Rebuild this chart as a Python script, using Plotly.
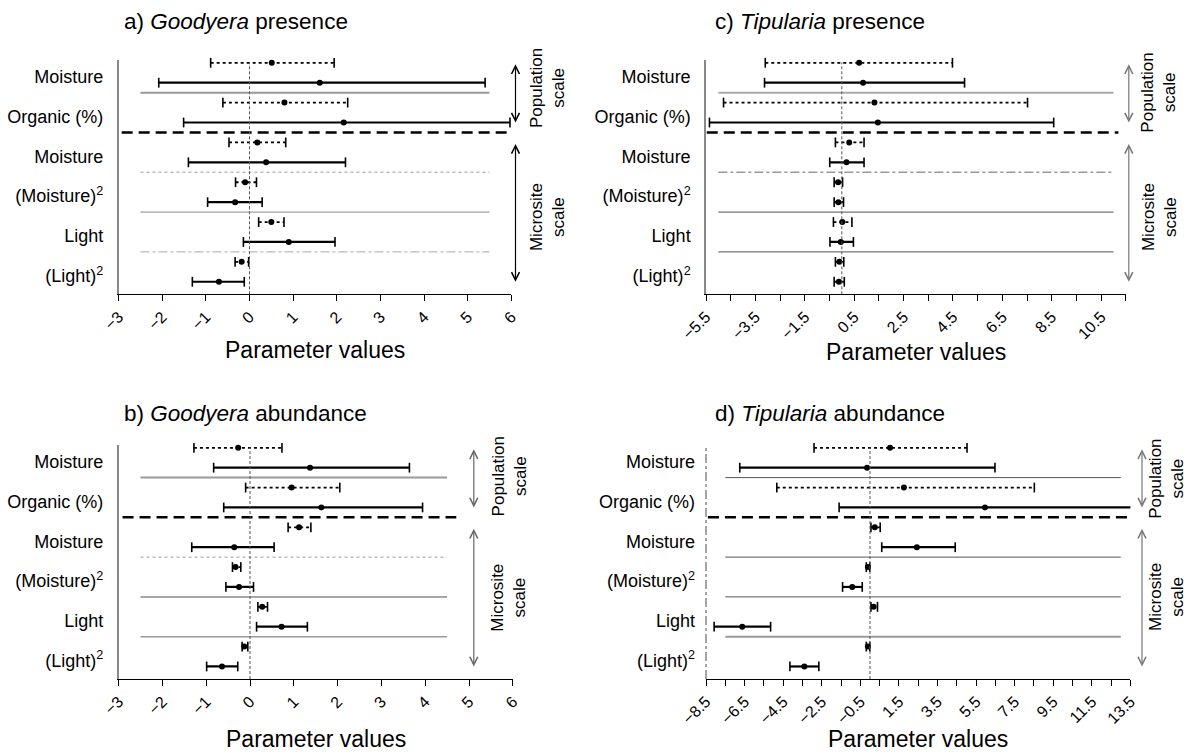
import plotly.graph_objects as go

variables = ["Moisture", "Organic (%)", "Moisture", "(Moisture)<sup>2</sup>",
             "Light", "(Light)<sup>2</sup>"]

# ---- panel a: Goodyera presence ----
a_dot_est = [0.51, 0.80, 0.18, -0.10, 0.50, -0.18]
a_dot_lo = [-0.89, -0.61, -0.47, -0.32, 0.21, -0.33]
a_dot_hi = [1.94, 2.25, 0.83, 0.16, 0.79, -0.02]
a_sol_est = [1.61, 2.16, 0.38, -0.33, 0.90, -0.70]
a_sol_lo = [-2.08, -1.51, -1.40, -0.96, -0.14, -1.31]
a_sol_hi = [5.40, 5.97, 2.20, 0.29, 1.96, -0.12]

# ---- panel b: Goodyera abundance ----
b_dot_est = [-0.27, 0.95, 1.12, -0.33, 0.28, -0.13]
b_dot_lo = [-1.28, -0.10, 0.87, -0.40, 0.18, -0.18]
b_dot_hi = [0.73, 2.05, 1.39, -0.21, 0.40, -0.05]
b_sol_est = [1.37, 1.63, -0.36, -0.25, 0.72, -0.64]
b_sol_lo = [-0.83, -0.60, -1.33, -0.55, 0.15, -0.99]
b_sol_hi = [3.64, 3.94, 0.55, 0.08, 1.31, -0.28]

# ---- panel c: Tipularia presence ----
c_dot_est = [0.70, 1.32, 0.30, -0.15, 0.02, -0.10]
c_dot_lo = [-3.10, -4.79, -0.26, -0.31, -0.34, -0.26]
c_dot_hi = [4.48, 7.52, 0.90, 0.03, 0.41, 0.08]
c_sol_est = [0.86, 1.46, 0.19, -0.14, -0.04, -0.12]
c_sol_lo = [-3.13, -5.36, -0.49, -0.31, -0.48, -0.31]
c_sol_hi = [4.97, 8.58, 0.90, 0.07, 0.47, 0.10]

# ---- panel d: Tipularia abundance ----
d_dot_est = [1.04, 1.76, 0.25, -0.11, 0.19, -0.11]
d_dot_lo = [-2.90, -4.83, 0.05, -0.19, 0.05, -0.19]
d_dot_hi = [5.03, 8.52, 0.53, -0.01, 0.39, -0.01]
d_sol_est = [-0.15, 5.96, 2.43, -0.92, -6.62, -3.40]
d_sol_lo = [-6.75, -1.60, 0.61, -1.42, -8.08, -4.15]
d_sol_hi = [6.48, 13.9, 4.42, -0.40, -5.15, -2.65]

ticks_ab = [-3, -2, -1, 0, 1, 2, 3, 4, 5, 6]
ticks_c = [-5.5, -3.5, -1.5, 0.5, 2.5, 4.5, 6.5, 8.5, 10.5]
ticks_d = [-8.5, -6.5, -4.5, -2.5, -0.5, 1.5, 3.5, 5.5, 7.5, 9.5, 11.5, 13.5]

W, H = 1190, 752
FONT = "Liberation Sans, Arial, sans-serif"

panels = [
    dict(key="a", title="a) <i>Goodyera</i> presence",
         dot=(a_dot_lo, a_dot_est, a_dot_hi), sol=(a_sol_lo, a_sol_est, a_sol_hi),
         xr=[-3, 6], ticks=ticks_ab, minor=None,
         px=(118.6, 511.3), py=(60, 294.3), title_xy=(122, 21.7), xt_y=350,
         sep=(-2.5, 5.5), dash=(-2.93, 5.95),
         seps=[("#999", 2, "solid"), ("#bbb", 1.5, "dot"), ("#888", 1, "solid"), ("#aaa", 1, "dashdot")],
         arrow_x=515.5, arrow_col="black", txt_x=547, txt_y=(2.27, 8.75), ydash=False),
    dict(key="b", title="b) <i>Goodyera</i> abundance",
         dot=(b_dot_lo, b_dot_est, b_dot_hi), sol=(b_sol_lo, b_sol_est, b_sol_hi),
         xr=[-3, 6], ticks=ticks_ab, minor=None,
         px=(118.6, 512.8), py=(445, 679), title_xy=(122, 413), xt_y=739,
         sep=(-2.5, 4.5), dash=(-2.91, 4.71),
         seps=[("#999", 2, "solid"), ("#bbb", 1.5, "dot"), ("#888", 1.5, "solid"), ("#999", 1.5, "solid")],
         arrow_x=473.8, arrow_col="#666", txt_x=509, txt_y=(2.44, 8.54), ydash=False),
    dict(key="c", title="c) <i>Tipularia</i> presence",
         dot=(c_dot_lo, c_dot_est, c_dot_hi), sol=(c_sol_lo, c_sol_est, c_sol_hi),
         xr=[-5.5, 11.5], ticks=ticks_c, minor=1,
         px=(706.0, 1125.8), py=(60, 294.3), title_xy=(712.5, 21.7), xt_y=352,
         sep=(-5.0, 11.0), dash=(-5.47, 11.2),
         seps=[("#aaa", 2, "solid"), ("#999", 1.5, "dashdot"), ("#555", 1, "solid"), ("#555", 1, "solid")],
         arrow_x=1128.8, arrow_col="#777", txt_x=1159, txt_y=(2.5, 8.75), ydash=False),
    dict(key="d", title="d) <i>Tipularia</i> abundance",
         dot=(d_dot_lo, d_dot_est, d_dot_hi), sol=(d_sol_lo, d_sol_est, d_sol_hi),
         xr=[-8.5, 13.5], ticks=ticks_d, minor=1,
         px=(706.0, 1130.4), py=(445, 679), title_xy=(712.5, 413), xt_y=739,
         sep=(-7.5, 13.0), dash=(-8.4, 13.76),
         seps=[("#555", 1, "solid"), ("#555", 1, "solid"), ("#555", 1, "solid"), ("#999", 2, "solid")],
         arrow_x=1142, arrow_col="#777", txt_x=1167, txt_y=(2.56, 8.5), ydash=True),
]

YR = [12.63, 0.86]
fig = go.Figure()
shapes, annotations = [], []
layout_axes = {}

for i, p in enumerate(panels, start=1):
    xa = "x" if i == 1 else f"x{i}"
    ya = "y" if i == 1 else f"y{i}"
    xname = "xaxis" if i == 1 else f"xaxis{i}"
    yname = "yaxis" if i == 1 else f"yaxis{i}"
    n = len(variables)
    rows_dot = [2 * k + 1 for k in range(n)]
    rows_sol = [2 * k + 2 for k in range(n)]

    for (lo, est, hi), rows, dash, lw in [(p["dot"], rows_dot, "3px,3px", 1.8),
                                          (p["sol"], rows_sol, "solid", 2.2)]:
        xs, ys = [], []
        for l, h, r in zip(lo, hi, rows):
            xs += [l, h, None]
            ys += [r, r, None]
        fig.add_trace(go.Scatter(
            x=xs, y=ys, xaxis=xa, yaxis=ya, mode="lines+markers",
            line=dict(color="black", width=lw, dash=dash),
            marker=dict(symbol="line-ns", size=7, line=dict(color="black", width=1.6)),
            showlegend=False, hoverinfo="skip", cliponaxis=False))
        fig.add_trace(go.Scatter(
            x=est, y=rows, xaxis=xa, yaxis=ya, mode="markers",
            marker=dict(symbol="circle", size=6, color="black"),
            showlegend=False, cliponaxis=False))

    xd = [p["px"][0] / W, p["px"][1] / W]
    yd = [1 - p["py"][1] / H, 1 - p["py"][0] / H]
    layout_axes[xname] = dict(
        domain=xd, range=p["xr"], anchor=ya, showline=True, linecolor="black",
        linewidth=1, ticks="outside", ticklen=6, tickcolor="black",
        tickmode="array", tickvals=p["ticks"], tickangle=-45, automargin=False,
        tickfont=dict(size=16, color="black", family=FONT),
        showgrid=False, zeroline=False, fixedrange=True)
    if p["minor"]:
        layout_axes[xname]["minor"] = dict(dtick=p["minor"], tick0=p["xr"][0],
                                           ticks="outside", ticklen=6, tickcolor="black",
                                           showgrid=False)
    layout_axes[yname] = dict(
        domain=yd, range=YR, anchor=xa, showline=not p["ydash"], linecolor="#888",
        linewidth=1.5, ticks="", tickmode="array", automargin=False,
        tickvals=[r + 0.7 for r in rows_dot], ticktext=variables,
        tickfont=dict(size=18, color="black", family=FONT), ticklabelstandoff=10,
        showgrid=False, zeroline=False, fixedrange=True)
    if p["ydash"]:
        shapes.append(dict(type="line", xref=f"{xa} domain", yref=f"{ya} domain",
                           x0=0, x1=0, y0=0, y1=1,
                           line=dict(color="#888", width=1.5, dash="dashdot")))

    # separators between variables
    sep_rows = [2.5, 6.5, 8.5, 10.5]
    for r, (col, w, dsh) in zip(sep_rows, p["seps"]):
        shapes.append(dict(type="line", xref=xa, yref=ya, x0=p["sep"][0], x1=p["sep"][1],
                           y0=r, y1=r, line=dict(color=col, width=w, dash=dsh)))
    # thick dashed line between population / microsite
    shapes.append(dict(type="line", xref=xa, yref=ya, x0=p["dash"][0], x1=p["dash"][1],
                       y0=4.5, y1=4.5, line=dict(color="black", width=2.5, dash="11px,6px")))
    # zero line
    shapes.append(dict(type="line", xref=xa, yref=f"{ya} domain", x0=0, x1=0, y0=0, y1=0.99,
                       line=dict(color="#555", width=1, dash="3px,2px")))

    # titles
    annotations.append(dict(text=p["title"], xref="paper", yref="paper",
                            x=p["title_xy"][0] / W, y=1 - p["title_xy"][1] / H,
                            xanchor="left", yanchor="middle", showarrow=False,
                            font=dict(size=22.5, color="black", family=FONT)))
    annotations.append(dict(text="Parameter values", xref="paper", yref="paper",
                            x=(xd[0] + xd[1]) / 2, y=1 - p["xt_y"] / H,
                            xanchor="center", yanchor="middle", showarrow=False,
                            font=dict(size=23, color="black", family=FONT)))
    # scale arrows
    for (r0, r1) in [(1, 4), (5, 12)]:
        annotations.append(dict(text="", xref="paper", yref=ya, x=p["arrow_x"] / W, y=r1,
                                axref="pixel", ayref=ya, ax=0, ay=r0, showarrow=True,
                                arrowside="end+start", arrowhead=5, startarrowhead=5,
                                arrowsize=1.3, startarrowsize=1.3, arrowwidth=1.2,
                                arrowcolor=p["arrow_col"]))
    for txt, yy in zip(["Population<br>scale", "Microsite<br>scale"], p["txt_y"]):
        annotations.append(dict(text=txt, xref="paper", yref=ya, x=p["txt_x"] / W, y=yy,
                                xanchor="center", yanchor="middle", showarrow=False,
                                textangle=-90, align="center",
                                font=dict(size=17, color="black", family=FONT)))

fig.update_layout(
    width=W, height=H, margin=dict(l=0, r=0, t=0, b=0, autoexpand=False),
    paper_bgcolor="white", plot_bgcolor="white",
    font=dict(family=FONT, color="black"),
    shapes=shapes, annotations=annotations, showlegend=False,
    **layout_axes)

fig.write_html("out.html", config={"displayModeBar": False},
               post_script="document.body.style.margin='0px';"
                           "document.body.style.overflow='hidden';")
